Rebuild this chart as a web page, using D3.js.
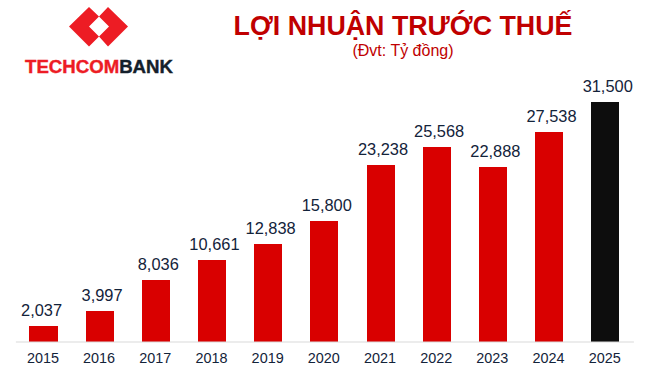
<!DOCTYPE html>
<html>
<head>
<meta charset="utf-8">
<script src="https://cdnjs.cloudflare.com/ajax/libs/d3/7.8.5/d3.min.js"></script>
<style>
    html, body { margin: 0; padding: 0; background: #fff; }
    svg { display: block; }
    text { font-family: "Liberation Sans", Arial, sans-serif; }
</style>
</head>
<body>
<div id="chart"></div>
<script>
const years = ["2015", "2016", "2017", "2018", "2019", "2020", "2021", "2022", "2023", "2024", "2025"];
const profits = [2037, 3997, 8036, 10661, 12838, 15800, 23238, 25568, 22888, 27538, 31500];
const barColors = ["#d90000", "#d90000", "#d90000", "#d90000", "#d90000", "#d90000", "#d90000", "#d90000", "#d90000", "#d90000", "#0d0d0d"];

const width = 648, height = 380;
const margin = {top: 102, right: 14.6, bottom: 38.5, left: 15.4};

const svg = d3.select("#chart")
    .append("svg")
    .attr("width", width)
    .attr("height", height);

const x = d3.scaleBand()
    .domain(years)
    .range([margin.left, width - margin.right])
    .paddingInner(0.5)
    .paddingOuter(0.25);

const y = d3.scaleLinear()
    .domain([0, 31500])
    .range([height - margin.bottom, margin.top]);

// bars
svg.selectAll(".bar")
    .data(years)
    .enter()
    .append("rect")
    .attr("class", "bar")
    .attr("x", d => x(d))
    .attr("width", x.bandwidth())
    .attr("y", (d, i) => y(profits[i]))
    .attr("height", (d, i) => y(0) - y(profits[i]))
    .attr("shape-rendering", "crispEdges")
    .attr("fill", (d, i) => barColors[i]);

// value labels, all a little right of the bar centre except the first one
svg.selectAll(".value")
    .data(years)
    .enter()
    .append("text")
    .attr("class", "value")
    .attr("x", (d, i) => x(d) + x.bandwidth() / 2 + (i === 0 ? -1.9 : 2.4))
    .attr("y", (d, i) => y(profits[i]) - 10)
    .attr("text-anchor", "middle")
    .attr("font-size", 16.4)
    .attr("fill", "#13233a")
    .text((d, i) => d3.format(",")(profits[i]));

// x axis
const xAxis = d3.axisBottom(x).tickSize(0).tickPadding(11.5);
const axisG = svg.append("g")
    .attr("transform", "translate(0," + y(0) + ")")
    .call(xAxis);
axisG.select(".domain").attr("stroke", "#d9d9d9").attr("stroke-width", 1);
axisG.selectAll("text")
    .attr("dx", -0.6)
    .attr("font-size", 14.4)
    .attr("font-family", '"Liberation Sans", Arial, sans-serif')
    .attr("fill", "#13233a");

// title
svg.append("text")
    .attr("x", 403)
    .attr("y", 34.5)
    .attr("text-anchor", "middle")
    .attr("font-size", 26.8)
    .attr("font-weight", "bold")
    .attr("fill", "#c00000")
    .text("LỢI NHUẬN TRƯỚC THUẾ");

svg.append("text")
    .attr("x", 403)
    .attr("y", 56)
    .attr("text-anchor", "middle")
    .attr("font-size", 16)
    .attr("fill", "#c00000")
    .text("(Đvt: Tỷ đồng)");

// logo
const logo = svg.append("g").attr("fill", "#ed1c24");
logo.append("path").attr("d", "M89,7 L99,16.5 L89,26.5 L99,36.5 L89,46.5 L69,26.5 Z");
logo.append("path").attr("d", "M108,7 L128,26.5 L108,46.5 L99,36.5 L109,26.5 L99,16.5 Z");

const logoText = svg.append("text")
    .attr("x", 25)
    .attr("y", 73)
    .attr("font-size", 18.5)
    .attr("font-weight", "bold")
    .attr("font-family", '"Open Sans", sans-serif')
    .attr("stroke-width", 0.4)
    .attr("textLength", 148)
    .attr("lengthAdjust", "spacingAndGlyphs");
logoText.append("tspan").attr("fill", "#ed1c24").attr("stroke", "#ed1c24").text("TECHCOM");
logoText.append("tspan").attr("fill", "#14202b").attr("stroke", "#14202b").text("BANK");
</script>
</body>
</html>
